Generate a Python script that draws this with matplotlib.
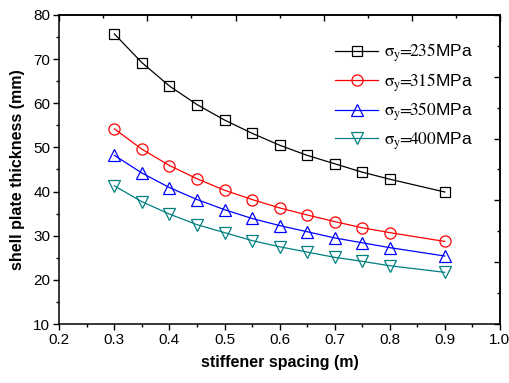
import numpy as np
import matplotlib
matplotlib.use('Agg')
import matplotlib.pyplot as plt

plt.rcParams['font.family'] = ['Liberation Sans', 'DejaVu Sans']
plt.rcParams['mathtext.fontset'] = 'stix'

spacing = [0.30, 0.35, 0.40, 0.45, 0.50, 0.55, 0.60, 0.65, 0.70, 0.75, 0.80, 0.90]
t235 = [75.7, 69.2, 63.9, 59.7, 56.2, 53.2, 50.5, 48.2, 46.3, 44.4, 42.8, 39.9]
t315 = [54.2, 49.6, 45.9, 42.9, 40.3, 38.2, 36.3, 34.7, 33.2, 31.8, 30.7, 28.7]
t350 = [48.2, 44.2, 40.9, 38.2, 35.9, 33.9, 32.3, 30.9, 29.5, 28.4, 27.3, 25.4]
t400 = [41.3, 37.7, 34.9, 32.5, 30.7, 28.9, 27.5, 26.3, 25.1, 24.2, 23.2, 21.7]
labels = [r'$\mathrm{\sigma_{y}\!\!=\!\!235}$MPa', r'$\mathrm{\sigma_{y}\!\!=\!\!315}$MPa',
          r'$\mathrm{\sigma_{y}\!\!=\!\!350}$MPa', r'$\mathrm{\sigma_{y}\!\!=\!\!400}$MPa']

series = [t235, t315, t350, t400]
colors = ['black', 'red', 'blue', '#008080']
markers = ['s', 'o', '^', 'v']
msizes = [7, 8, 8.5, 8.5]

fig = plt.figure(figsize=(5.09, 3.83), dpi=100)
ax = fig.add_axes([0.1165, 0.154, 0.8655, 0.807])

for ys, c, m, ms, lab in zip(series, colors, markers, msizes, labels):
    ax.plot(spacing, ys, color=c, lw=0.9, marker=m, ms=ms,
            mfc='none', mec=c, mew=0.9, label=lab)

ax.set_xlim(0.2, 1.0)
ax.set_ylim(10, 80)
ax.set_xticks(np.arange(0.2, 1.01, 0.1))
ax.set_xticks(np.arange(0.25, 1.0, 0.1), minor=True)
ax.set_yticks(np.arange(10, 81, 10))
ax.set_yticks(np.arange(15, 80, 10), minor=True)
ax.set_xticklabels(['%.1f' % v for v in np.arange(0.2, 1.01, 0.1)])
ax.tick_params(which='both', direction='out', top=False, right=False,
               labelsize=11, width=1, pad=2)
ax.tick_params(which='major', length=4.5)
ax.tick_params(which='minor', length=2.5)

# mirrored axes on top/right, inward ticks
sx = ax.secondary_xaxis('top')
sx.set_xticks(np.arange(0.2, 1.01, 0.16))
sx.set_xticks(np.arange(0.28, 1.0, 0.16), minor=True)
sx.tick_params(which='both', direction='in', labeltop=False, width=1)
sx.tick_params(which='major', length=4)
sx.tick_params(which='minor', length=2.5)
sy = ax.secondary_yaxis('right')
sy.set_yticks(np.arange(10, 81, 14))
sy.set_yticks(np.arange(17, 80, 14), minor=True)
sy.tick_params(which='both', direction='in', labelright=False, width=1)
sy.tick_params(which='major', length=4.5)
sy.tick_params(which='minor', length=2.5)

for s in list(ax.spines.values()) + [sx.spines['top'], sy.spines['right']]:
    s.set_linewidth(1.1)

ax.set_xlabel('stiffener spacing (m)', fontsize=11.5, fontweight='bold', labelpad=6)
ax.set_ylabel('shell plate thickness (mm)', fontsize=11.5, fontweight='bold', labelpad=6)

ax.legend(loc='upper right', bbox_to_anchor=(0.94, 0.914), frameon=False,
          fontsize=12.5, handlelength=2.5, handletextpad=0.35, labelspacing=0.4,
          borderpad=0, borderaxespad=0)

fig.savefig('out.png', dpi=100)
